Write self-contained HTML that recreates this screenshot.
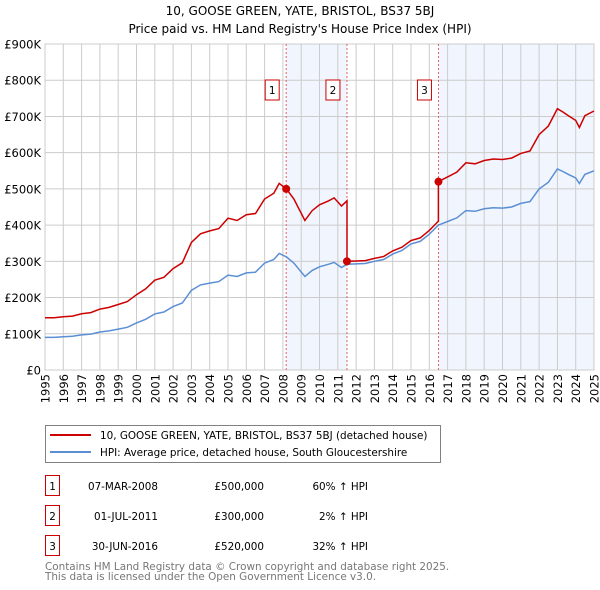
<!DOCTYPE html>
<html><head><meta charset="utf-8"><style>
body{margin:0;background:#fff;width:600px;height:590px;overflow:hidden;font-family:"DejaVu Sans","Liberation Sans",sans-serif;}
svg{position:absolute;left:0;top:0}
</style></head><body>
<svg id="c" width="600" height="590" xmlns="http://www.w3.org/2000/svg"></svg>
<script>
const hpiYears=[1995,1995.5,1996,1996.5,1997,1997.5,1998,1998.5,1999,1999.5,2000,2000.5,2001,2001.5,2002,2002.5,2003,2003.5,2004,2004.5,2005,2005.5,2006,2006.5,2007,2007.5,2007.8,2008.2,2008.6,2009.2,2009.6,2010,2010.5,2010.8,2011.2,2011.5,2012,2012.5,2013,2013.5,2014,2014.5,2015,2015.5,2016,2016.4,2016.5,2017,2017.5,2018,2018.5,2019,2019.5,2020,2020.5,2021,2021.5,2022,2022.5,2023,2023.3,2023.6,2024,2024.2,2024.5,2025];
const hpiValues=[90,90,92,93,97,99,105,108,113,118,130,140,155,160,175,185,220,235,240,244,262,258,268,270,295,305,322,312,295,258,275,285,292,297,283,292,293,294,300,305,320,330,348,355,375,395,400,410,420,440,438,445,448,447,450,460,465,500,518,555,548,540,530,515,540,550];
const saleDates=[2008.18,2011.5,2016.5];
const salePrices=[500,300,520];
const saleLabels=["1","2","3"];
const yTicks=[0,100,200,300,400,500,600,700,800,900];
const yTickLabels=["£0","£100K","£200K","£300K","£400K","£500K","£600K","£700K","£800K","£900K"];
const xTicks=[];for(let y=1995;y<=2025;y++)xTicks.push(y);

const NS="http://www.w3.org/2000/svg";
const svg=document.getElementById('c');
const X0=45,X1=594,Y0=370,Y1=44;
const xs=v=>X0+(v-1995)/30*(X1-X0);
const ys=v=>Y0-v/900*(Y0-Y1);
function mk(t,a,p){const e=document.createElementNS(NS,t);for(const k in a)e.setAttribute(k,a[k]);(p||svg).appendChild(e);return e;}
function hpiAt(t){for(let i=1;i<hpiYears.length;i++){if(t<=hpiYears[i]){const f=(t-hpiYears[i-1])/(hpiYears[i]-hpiYears[i-1]);return hpiValues[i-1]+f*(hpiValues[i]-hpiValues[i-1]);}}return hpiValues[hpiValues.length-1];}

let t=mk('text',{x:300,y:15,'text-anchor':'middle','font-size':'12'});t.textContent='10, GOOSE GREEN, YATE, BRISTOL, BS37 5BJ';


t=mk('text',{x:300,y:33,'text-anchor':'middle','font-size':'12'});t.textContent="Price paid vs. HM Land Registry's House Price Index (HPI)";



let sh=mk('rect',{x:xs(saleDates[0]),y:Y1,width:xs(saleDates[1])-xs(saleDates[0]),height:Y0-Y1,fill:'#f1f5fd'});


sh=mk('rect',{x:xs(saleDates[2]),y:Y1,width:X1-xs(saleDates[2]),height:Y0-Y1,fill:'#f1f5fd'});



yTicks.forEach((v,i)=>{
 const g=mk('line',{x1:X0,x2:X1,y1:ys(v),y2:ys(v),stroke:'#cccccc','stroke-width':1});
 
 
 const l=mk('text',{x:X0-4,y:ys(v)+4.5,'text-anchor':'end','font-size':'11.5'});l.textContent=yTickLabels[i];
 
 
});
xTicks.forEach(v=>{
 const g=mk('line',{x1:xs(v),x2:xs(v),y1:Y1,y2:Y0,stroke:'#cccccc','stroke-width':1});
 
 
 const l=mk('text',{x:0,y:0,'text-anchor':'end','font-size':'11.5',transform:`translate(${xs(v)+4.5},374) rotate(-90)`});l.textContent=v;
 
 
});
let fr=mk('rect',{x:X0,y:Y1,width:X1-X0,height:Y0-Y1,fill:'none',stroke:'#cccccc'});



saleDates.forEach((d,i)=>{
 const l=mk('line',{x1:xs(d),x2:xs(d),y1:Y1,y2:Y0,stroke:'#e06060','stroke-width':1,'stroke-dasharray':'2,2'});
 
 
 const b=mk('rect',{x:xs(d)-21,y:80,width:14,height:20,fill:'#fff',stroke:'#cc0000'});
 
 
 const tx=mk('text',{x:xs(d)-14,y:94,'text-anchor':'middle','font-size':'10.5'});tx.textContent=saleLabels[i];
 
 
});

let dH=hpiYears.map((y,i)=>(i?'L':'M')+xs(y).toFixed(1)+','+ys(hpiValues[i]).toFixed(1)).join('');
let hp=mk('path',{d:dH,fill:'none',stroke:'#5b8fd4','stroke-width':1.5});



let pts=[];
function factorAt(tt){let k=0;for(let i=0;i<saleDates.length;i++)if(tt>=saleDates[i])k=i;return salePrices[k]/hpiAt(saleDates[k]);}
for(let i=0;i<hpiYears.length;i++){
 const y=hpiYears[i];
 saleDates.forEach((d,k)=>{ if(d>(i?hpiYears[i-1]:0)&&d<=y){const h=hpiAt(d);pts.push([d,h*(k?salePrices[k-1]/hpiAt(saleDates[k-1]):salePrices[0]/hpiAt(saleDates[0]))]);pts.push([d,salePrices[k]]);} });
 pts.push([y,hpiValues[i]*factorAt(y)]);
}
let dP=pts.map((p,i)=>(i?'L':'M')+xs(p[0]).toFixed(1)+','+ys(p[1]).toFixed(1)).join('');
let pp=mk('path',{d:dP,fill:'none',stroke:'#cc0000','stroke-width':1.5});


saleDates.forEach((d,i)=>{
 const c=mk('circle',{cx:xs(d),cy:ys(salePrices[i]),r:4,fill:'#cc0000'});
 
 
});

const lg=mk('g',{});


mk('rect',{x:45.5,y:425.5,width:395,height:37,fill:'#fff',stroke:'#808080'},lg);
mk('line',{x1:50,x2:91,y1:435,y2:435,stroke:'#cc0000','stroke-width':2},lg);
mk('line',{x1:50,x2:91,y1:452,y2:452,stroke:'#5b8fd4','stroke-width':2},lg);
t=mk('text',{x:100,y:439,'font-size':'10.4'},lg);t.textContent='10, GOOSE GREEN, YATE, BRISTOL, BS37 5BJ (detached house)';


t=mk('text',{x:100,y:456,'font-size':'10.4'},lg);t.textContent='HPI: Average price, detached house, South Gloucestershire';



const rows=[["1","07-MAR-2008","£500,000","60% ↑ HPI"],["2","01-JUL-2011","£300,000","2% ↑ HPI"],["3","30-JUN-2016","£520,000","32% ↑ HPI"]];
rows.forEach((r,i)=>{
 const y=476+i*30;
 const g=mk('g',{});
 
 
 mk('rect',{x:45.5,y:y-0.5,width:14,height:20,fill:'#fff',stroke:'#cc0000'},g);
 let a=mk('text',{x:52.5,y:y+14,'text-anchor':'middle','font-size':'10.4'},g);a.textContent=r[0];
 a=mk('text',{x:158,y:y+14,'text-anchor':'end','font-size':'10.4'},g);a.textContent=r[1];
 a=mk('text',{x:264,y:y+14,'text-anchor':'end','font-size':'10.4'},g);a.textContent=r[2];
 a=mk('text',{x:368,y:y+14,'text-anchor':'end','font-size':'10.4'},g);a.textContent=r[3];
});
t=mk('text',{x:45,y:570,'font-size':'10.4',fill:'#777'});t.textContent='Contains HM Land Registry data © Crown copyright and database right 2025.';


t=mk('text',{x:45,y:580,'font-size':'10.4',fill:'#777'});t.textContent='This data is licensed under the Open Government Licence v3.0.';


</script>
</body></html>
